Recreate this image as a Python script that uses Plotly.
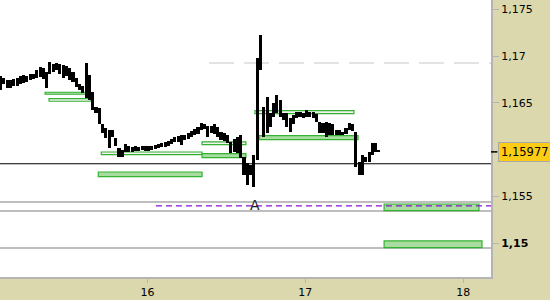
import plotly.graph_objects as go

# ---------------- data ----------------
bar_start = 15.0703          # day number of first 30-min bar
bar_step = 1.0 / 48.0        # 30 minutes

highs = [1.1679, 1.1677, 1.1675, 1.1675, 1.1676, 1.1677, 1.1679, 1.1680, 1.1679, 1.1681,
         1.1681, 1.1685, 1.1688, 1.1687, 1.1683, 1.1694, 1.1692, 1.1693, 1.1692, 1.1691,
         1.1690, 1.1687, 1.1683, 1.1677, 1.1670, 1.1668, 1.1693, 1.1680, 1.1662, 1.1646,
         1.1645, 1.1627, 1.1623, 1.1621, 1.1621, 1.1613, 1.1602, 1.1600, 1.1606, 1.1604,
         1.1603, 1.1604, 1.1603, 1.1604, 1.1604, 1.1604, 1.1604, 1.1605, 1.1606, 1.1607,
         1.1608, 1.1609, 1.1612, 1.1614, 1.1615, 1.1616, 1.1616, 1.1618, 1.1620, 1.1622,
         1.1624, 1.1629, 1.1628, 1.1625, 1.1625, 1.1627, 1.1624, 1.1619, 1.1618, 1.1616,
         1.1608, 1.1612, 1.1614, 1.1616, 1.1592, 1.1586, 1.1584, 1.1594, 1.1698, 1.1723,
         1.1646, 1.1656, 1.1639, 1.1650, 1.1658, 1.1653, 1.1639, 1.1639, 1.1634, 1.1637,
         1.1640, 1.1640, 1.1639, 1.1642, 1.1640, 1.1640, 1.1638, 1.1630, 1.1629, 1.1630,
         1.1629, 1.1627, 1.1621, 1.1621, 1.1619, 1.1623, 1.1629, 1.1628, 1.1619, 1.1587,
         1.1594, 1.1592, 1.1598, 1.1607, 1.1607, 1.15997]
lows = [1.1664, 1.1670, 1.1666, 1.1666, 1.1668, 1.1668, 1.1670, 1.1671, 1.1672, 1.1675,
        1.1676, 1.1677, 1.1678, 1.1676, 1.1666, 1.1681, 1.1683, 1.1685, 1.1681, 1.1677,
        1.1679, 1.1675, 1.1672, 1.1667, 1.1664, 1.1661, 1.1655, 1.1653, 1.1642, 1.1639,
        1.1627, 1.1618, 1.1613, 1.1602, 1.1614, 1.1604, 1.1592, 1.1592, 1.1598, 1.1598,
        1.1598, 1.1599, 1.1599, 1.1600, 1.1599, 1.1599, 1.1600, 1.1601, 1.1602, 1.1603,
        1.1603, 1.1604, 1.1606, 1.1608, 1.1608, 1.1605, 1.1610, 1.1612, 1.1614, 1.1616,
        1.1617, 1.1621, 1.1622, 1.1614, 1.1618, 1.1617, 1.1614, 1.1610, 1.1609, 1.1607,
        1.1597, 1.1598, 1.1596, 1.1591, 1.1573, 1.1562, 1.1573, 1.1560, 1.1589, 1.1685,
        1.1614, 1.1618, 1.1624, 1.1635, 1.1639, 1.1635, 1.1632, 1.1624, 1.1619, 1.1627,
        1.1634, 1.1635, 1.1634, 1.1635, 1.1635, 1.1634, 1.1630, 1.1618, 1.1618, 1.1614,
        1.1616, 1.1616, 1.1616, 1.1616, 1.1616, 1.1617, 1.1621, 1.1620, 1.1582, 1.1573,
        1.1573, 1.1587, 1.1587, 1.1594, 1.1598, 1.15977]

last_price = 1.15977
support_level = 1.1585
gray_levels = [1.15442, 1.15346, 1.14950]
gray_dash_level = 1.16927
gray_dash_start = 16.390
magenta_level = 1.15399
magenta_start = 16.054
label_a_day = 16.683

# zones: start day, end day, top price, bottom price, filled
zone_start = [15.352, 15.377, 15.708, 15.689, 16.346, 16.346, 16.681, 16.707, 17.499, 17.499]
zone_end   = [15.618, 15.643, 16.346, 16.346, 16.624, 16.624, 17.308, 17.334, 18.100, 18.119]
zone_top   = [1.16614, 1.16546, 1.15976, 1.15762, 1.16083, 1.15958, 1.16417, 1.16150, 1.15420, 1.15025]
zone_bot   = [1.16593, 1.16518, 1.15947, 1.15712, 1.16054, 1.15915, 1.16385, 1.16107, 1.15349, 1.14954]
zone_fill  = [True, False, False, True, False, True, False, True, True, True]

y_ticks = [1.15, 1.155, 1.165, 1.17, 1.175]
y_tick_text = ["<b>1,15</b>", "1,155", "1,165", "1,17", "1,175"]
x_ticks = [16, 17, 18]
x_tick_text = ["16", "17", "18"]

# ---------------- figure ----------------
times = [bar_start + i * bar_step for i in range(len(highs))]
spans = [h - l if h - l > 0.00005 else 0.00005 for h, l in zip(highs, lows)]

x_min, x_max = 15.0665, 18.176
y_min, y_max = 1.1464, 1.1760

fig = go.Figure()
fig.add_trace(go.Bar(
    x=times, y=spans, base=lows, width=0.0195,
    marker=dict(color="black", line=dict(width=0)),
    hoverinfo="skip", showlegend=False,
))

shapes = []
for s, e, t, b, f in zip(zone_start, zone_end, zone_top, zone_bot, zone_fill):
    shapes.append(dict(type="rect", xref="x", yref="y", x0=s, x1=e, y0=b, y1=t,
                       line=dict(color="#33B233", width=1.2),
                       fillcolor="#A9DDA0" if f else "#F2F2EE", layer="below"))
for lv in gray_levels:
    shapes.append(dict(type="line", xref="paper", yref="y", x0=0, x1=1, y0=lv, y1=lv,
                       line=dict(color="#A8A8A8", width=1.5), layer="below"))
shapes.append(dict(type="line", xref="paper", yref="y", x0=0, x1=1, y0=support_level, y1=support_level,
                   line=dict(color="black", width=1.2), layer="below"))
shapes.append(dict(type="line", xref="x", yref="y", x0=gray_dash_start, x1=x_max,
                   y0=gray_dash_level, y1=gray_dash_level,
                   line=dict(color="#C8C8C8", width=1.2, dash="25px,10px"), layer="below"))
shapes.append(dict(type="line", xref="x", yref="y", x0=magenta_start, x1=x_max,
                   y0=magenta_level, y1=magenta_level,
                   line=dict(color="#8A10D8", width=1.2, dash="6px,4px"), layer="below"))
shapes.append(dict(type="line", xref="paper", yref="y", x0=1.0, x1=1.013,
                   y0=last_price, y1=last_price, line=dict(color="black", width=1.5)))

annotations = [
    dict(x=label_a_day, y=magenta_level, xref="x", yref="y", text="A", showarrow=False,
         font=dict(family="DejaVu Sans", size=14, color="#202020"), yshift=1),
    dict(x=1.0, y=last_price, xref="paper", yref="y", xanchor="left", yanchor="middle",
         xshift=7, text="1,15977", showarrow=False,
         font=dict(family="DejaVu Sans", size=11.5, color="black"),
         bgcolor="#FDCC14", bordercolor="#A8A8A8", borderwidth=1, borderpad=2),
]

fig.update_layout(
    width=550, height=300,
    margin=dict(l=0, r=59, t=0, b=23),
    paper_bgcolor="#DAD8AC",
    plot_bgcolor="white",
    shapes=shapes,
    annotations=annotations,
    showlegend=False,
    hovermode=False,
    bargap=0,
    font=dict(family="DejaVu Sans", size=11, color="black"),
    xaxis=dict(range=[x_min, x_max], tickvals=x_ticks, ticktext=x_tick_text,
               showgrid=False, zeroline=False, showline=True, linecolor="#B4B4B4", linewidth=2,
               ticks="outside", ticklen=4, tickcolor="#B4B4B4",
               tickfont=dict(family="DejaVu Sans", size=11, color="black")),
    yaxis=dict(range=[y_min, y_max], side="right", tickvals=y_ticks, ticktext=y_tick_text,
               showgrid=False, zeroline=False, showline=True, linecolor="#B4B4B4", linewidth=2,
               ticks="outside", ticklen=6, tickcolor="#B4B4B4",
               tickfont=dict(family="DejaVu Sans", size=11, color="black")),
)

fig.write_html("out.html")
